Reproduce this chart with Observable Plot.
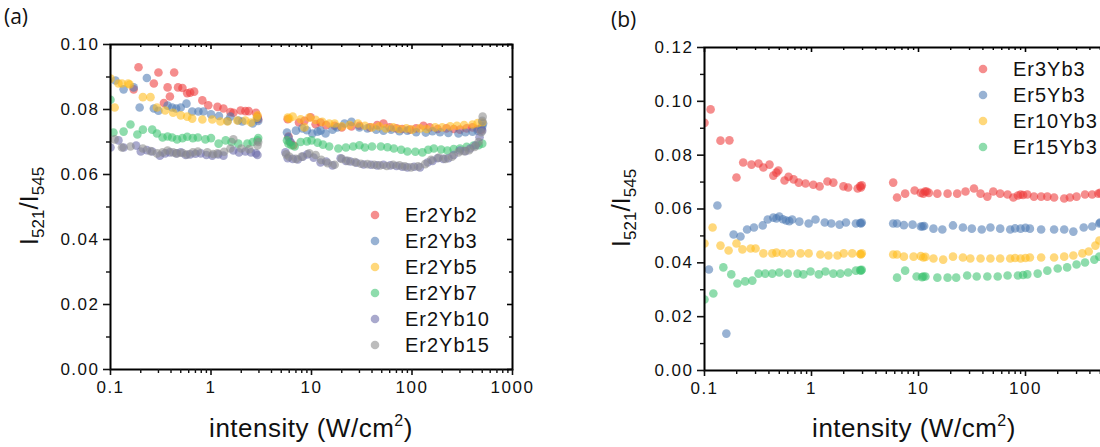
<!DOCTYPE html>
<html><head><meta charset="utf-8">
<script src="https://cdn.jsdelivr.net/npm/d3@7"></script>
<script src="https://cdn.jsdelivr.net/npm/@observablehq/plot@0.6"></script>
<style>
html,body{margin:0;padding:0;background:#fff;overflow:hidden;width:1100px;height:447px;}
#wrap{position:relative;width:1100px;height:447px;overflow:hidden;background:#fff;}
.panel{position:absolute;top:0;}
.panel svg{max-width:none !important;display:block;}
.plabel{position:absolute;font-family:"Open Sans","Noto Sans",sans-serif;font-size:21px;color:#111;}
</style></head><body><div id="wrap"></div>
<script>
// ---------- shared axis data ----------
const xMajor = [0.1, 1, 10, 100, 1000];
const xTickLabelsA = ["0.1", "1", "10", "100", "1000"];
const xTickLabelsB = ["0.1", "1", "10", "100", ""];   // 1000 lies beyond the cropped right edge
const xMinor = [0.1, 1, 10, 100].flatMap(d => [2,3,4,5,6,7,8,9].map(k => k * d));

// ---------- panel (a) ----------
const namesA = ["Er2Yb2", "Er2Yb3", "Er2Yb5", "Er2Yb7", "Er2Yb10", "Er2Yb15"];
const colorsA = ["#ee3b3b", "#4d7ab3", "#ffbb1c", "#3cc270", "#6b6ba8", "#8c8c8c"];
const yMajorA = [0, 0.02, 0.04, 0.06, 0.08, 0.10];
const yLabelsA = ["0.00", "0.02", "0.04", "0.06", "0.08", "0.10"];
const yMinorA = [0.01, 0.03, 0.05, 0.07, 0.09];

const er2yb2 = [[0.17,0.0862],[0.19,0.0930],[0.27,0.0880],[0.30,0.0914],[0.34,0.0820],[0.37,0.0868],[0.39,0.0840],[0.43,0.0914],[0.47,0.0868],[0.52,0.0866],[0.58,0.0850],[0.62,0.0852],[0.68,0.0855],[0.82,0.0828],[0.94,0.0813],[1.16,0.0808],[1.33,0.0803],[1.56,0.0792],[1.67,0.0790],[1.97,0.0797],[2.2,0.0795],[2.37,0.0795],[2.8,0.0790],[2.9,0.0778],[2.95,0.0770],
  [5.8,0.0770],[5.9,0.0717],[6.1,0.0700],[6.6,0.0690],[7.5,0.0760],[8.5,0.0765],[9.8,0.0776],[11,0.0755],[12.3,0.0760],[14,0.0752],[17,0.0750],[20,0.0745],[25,0.0748],[30,0.0750],[38,0.0745],[45,0.0752],[52,0.0757],[60,0.0745],[70,0.0742],[80,0.0740],[95,0.0738],[110,0.0742],[130,0.0750],[150,0.0745],[180,0.0740],[220,0.0742],[260,0.0740],[300,0.0738],[350,0.0742],[400,0.0745],[450,0.0740],[490,0.0738]];
const er2yb3 = [[0.112,0.0889],[0.135,0.0862],[0.17,0.0868],[0.195,0.0806],[0.23,0.0897],[0.27,0.0803],[0.30,0.0796],[0.37,0.0812],[0.41,0.0806],[0.45,0.0803],[0.50,0.0806],[0.57,0.0818],[0.65,0.0794],[0.75,0.0794],[0.84,0.0794],[1.0,0.0785],[1.2,0.0780],[1.46,0.0765],[1.56,0.0778],[1.87,0.0766],[2.05,0.0763],[2.6,0.0757],[2.9,0.0772],[2.95,0.0765],
  [5.7,0.0729],[5.9,0.0714],[6.2,0.0700],[7.0,0.0735],[8.1,0.0742],[9,0.0736],[10.2,0.0726],[11.5,0.0732],[12.3,0.0735],[13.8,0.0726],[16.2,0.0738],[18,0.0745],[21.3,0.0757],[25,0.0762],[30,0.0745],[36,0.0742],[44,0.0738],[52,0.0735],[62,0.0738],[75,0.0733],[90,0.0735],[110,0.0730],[137,0.0729],[160,0.0733],[190,0.0730],[230,0.0728],[290,0.0726],[340,0.0730],[400,0.0732],[450,0.0735],[490,0.0740],[500,0.0748],[510,0.0757]];
const er2yb5 = [[0.10,0.0895],[0.11,0.0806],[0.12,0.0880],[0.13,0.0880],[0.15,0.0880],[0.155,0.0877],[0.21,0.0838],[0.25,0.0838],[0.29,0.0806],[0.35,0.0797],[0.42,0.0790],[0.50,0.0782],[0.58,0.0778],[0.65,0.0772],[0.82,0.0769],[1.03,0.0769],[1.24,0.0763],[1.46,0.0763],[1.83,0.0766],[2.2,0.0766],[2.5,0.0760],[2.85,0.0775],[2.9,0.0782],
  [5.8,0.0775],[6.0,0.0772],[6.5,0.0778],[7.8,0.0770],[8.5,0.0745],[9.5,0.0775],[11,0.0768],[12.8,0.0762],[15,0.0757],[17,0.0757],[20,0.0748],[24,0.0752],[29,0.0757],[34,0.0750],[40,0.0745],[47,0.0748],[55,0.0742],[65,0.0745],[75,0.0740],[88,0.0742],[100,0.0738],[120,0.0742],[140,0.0740],[170,0.0745],[200,0.0745],[240,0.0748],[280,0.0750],[330,0.0752],[400,0.0754],[450,0.0758],[500,0.0760]];
const er2yb7 = [[0.10,0.0830],[0.107,0.0729],[0.135,0.0732],[0.158,0.0754],[0.185,0.0723],[0.21,0.0738],[0.26,0.0738],[0.29,0.0726],[0.33,0.0714],[0.37,0.0717],[0.41,0.0714],[0.46,0.0708],[0.52,0.0712],[0.58,0.0716],[0.66,0.0712],[0.74,0.0714],[0.88,0.0708],[1.0,0.0712],[1.19,0.0695],[1.4,0.0705],[1.6,0.0700],[1.87,0.0695],[2.3,0.0695],[2.6,0.0700],[2.9,0.0705],[2.95,0.0712],
  [5.7,0.0705],[5.9,0.0695],[6.3,0.0690],[6.8,0.0686],[7.8,0.0700],[9,0.0702],[10,0.0705],[11.5,0.0698],[13,0.0692],[15,0.0686],[18.5,0.0680],[22,0.0683],[26,0.0686],[30,0.0690],[34,0.0683],[40,0.0686],[49,0.0686],[57,0.0684],[66,0.0680],[78,0.0676],[90,0.0671],[108,0.0670],[127,0.0668],[145,0.0676],[165,0.0680],[195,0.0677],[225,0.0674],[260,0.0678],[300,0.0680],[350,0.0685],[410,0.0689],[460,0.0690],[500,0.0695]];
const er2yb10 = [[0.10,0.0683],[0.12,0.0705],[0.135,0.0683],[0.18,0.0689],[0.20,0.0671],[0.23,0.0675],[0.26,0.0671],[0.31,0.0658],[0.35,0.0665],[0.39,0.0668],[0.45,0.0665],[0.50,0.0668],[0.56,0.0660],[0.62,0.0662],[0.70,0.0664],[0.79,0.0665],[0.9,0.0660],[1.03,0.0658],[1.18,0.0662],[1.33,0.0658],[1.67,0.0674],[1.9,0.0668],[2.2,0.0671],[2.5,0.0668],[2.8,0.0665],[2.9,0.0660],
  [5.5,0.0668],[5.8,0.0650],[6.5,0.0648],[7.3,0.0646],[8.2,0.0655],[9.1,0.0662],[10.5,0.0652],[12.3,0.0637],[14,0.0640],[16.2,0.0628],[19.5,0.0650],[22,0.0642],[24.4,0.0640],[28,0.0636],[33,0.0631],[39,0.0630],[45,0.0628],[52,0.0630],[61,0.0628],[70,0.0626],[80,0.0624],[90,0.0622],[105,0.0624],[120,0.0622],[143,0.0637],[160,0.0642],[180,0.0650],[205,0.0648],[230,0.0650],[260,0.0660],[300,0.0674],[340,0.0672],[380,0.0680],[430,0.0690],[470,0.0715],[500,0.0735]];
const er2yb15 = [[0.11,0.0708],[0.13,0.0683],[0.158,0.0686],[0.21,0.0680],[0.25,0.0672],[0.29,0.0665],[0.33,0.0668],[0.37,0.0674],[0.42,0.0668],[0.46,0.0665],[0.52,0.0666],[0.58,0.0662],[0.66,0.0668],[0.74,0.0671],[0.92,0.0668],[1.05,0.0663],[1.16,0.0665],[1.35,0.0670],[1.56,0.0680],[1.67,0.0708],[2.0,0.0680],[2.4,0.0678],[2.9,0.0689],[2.95,0.0700],
  [5.6,0.0662],[6.0,0.0655],[7.0,0.0648],[8,0.0655],[9.5,0.0665],[11,0.0660],[12.5,0.0645],[14.5,0.0635],[17,0.0630],[20,0.0648],[23,0.0642],[27,0.0638],[31,0.0633],[36,0.0632],[42,0.0630],[48,0.0628],[56,0.0626],[65,0.0630],[75,0.0628],[85,0.0625],[98,0.0622],[115,0.0625],[135,0.0632],[155,0.0645],[185,0.0652],[215,0.0648],[250,0.0655],[290,0.0668],[330,0.0672],[370,0.0675],[420,0.0685],[460,0.0700],[490,0.0730],[500,0.0765],[505,0.0778]];
const seriesA = [er2yb2, er2yb3, er2yb5, er2yb7, er2yb10, er2yb15];

// ---------- panel (b) ----------
const namesB = ["Er3Yb3", "Er5Yb3", "Er10Yb3", "Er15Yb3"];
const colorsB = ["#ee3b3b", "#4d7ab3", "#ffbb1c", "#3cc270"];
const yMajorB = [0, 0.02, 0.04, 0.06, 0.08, 0.10, 0.12];
const yLabelsB = ["0.00", "0.02", "0.04", "0.06", "0.08", "0.10", "0.12"];
const yMinorB = [0.01, 0.03, 0.05, 0.07, 0.09, 0.11];

const er3yb3 = [[0.1,0.0920],[0.114,0.0970],[0.141,0.0854],[0.171,0.0855],[0.199,0.0717],[0.23,0.0773],[0.275,0.0765],[0.32,0.0769],[0.355,0.0754],[0.405,0.0765],[0.44,0.0724],[0.47,0.0735],[0.49,0.0743],[0.56,0.0706],[0.61,0.0720],[0.68,0.0710],[0.76,0.0698],[0.88,0.0695],[1.04,0.0690],[1.19,0.0684],[1.41,0.0702],[1.6,0.0698],[1.99,0.0684],[2.2,0.0680],[2.7,0.0676],[2.85,0.0685],[2.9,0.0680],[2.95,0.0688],
  [5.8,0.0698],[6.3,0.0643],[7.5,0.0657],[9.2,0.0669],[10.5,0.0660],[11.1,0.0657],[11.5,0.0665],[11.9,0.0665],[12.5,0.0660],[15,0.0657],[18.7,0.0657],[23,0.0657],[27.5,0.0665],[33,0.0676],[38,0.0657],[44,0.0646],[50,0.0665],[58,0.0657],[68,0.0654],[77,0.0643],[85,0.0650],[90,0.0654],[95,0.0652],[104,0.0654],[120,0.0646],[140,0.0646],[160,0.0646],[185,0.0643],[230,0.0639],[260,0.0643],[300,0.0646],[360,0.0654],[420,0.0654],[480,0.0657],[500,0.0660]];
const er5yb3 = [[0.11,0.0375],[0.132,0.0613],[0.16,0.0137],[0.187,0.0505],[0.217,0.0498],[0.25,0.0524],[0.29,0.0531],[0.35,0.0539],[0.39,0.0561],[0.44,0.0568],[0.47,0.0565],[0.5,0.0572],[0.54,0.0562],[0.58,0.0557],[0.62,0.0555],[0.66,0.0561],[0.77,0.0553],[0.94,0.0546],[1.09,0.0561],[1.33,0.0550],[1.53,0.0546],[1.83,0.0542],[2.1,0.0550],[2.6,0.0546],[2.85,0.0548],[2.9,0.0546],[2.95,0.0550],
  [5.8,0.0546],[6.3,0.0546],[7.3,0.0540],[8.8,0.0542],[10.5,0.0535],[10.9,0.0535],[11.3,0.0537],[13.8,0.0527],[16.7,0.0524],[21,0.0539],[26,0.0531],[31.5,0.0527],[39,0.0524],[47,0.0531],[58,0.0527],[72,0.0524],[80,0.0528],[90,0.0527],[100,0.0530],[110,0.0527],[140,0.0524],[185,0.0524],[230,0.0524],[280,0.0516],[350,0.0531],[420,0.0535],[490,0.0546],[500,0.0550]];
const er10yb3 = [[0.1,0.0472],[0.119,0.0531],[0.141,0.0464],[0.168,0.0446],[0.199,0.0472],[0.226,0.0450],[0.27,0.0453],[0.3,0.0453],[0.355,0.0435],[0.43,0.0435],[0.47,0.0438],[0.54,0.0435],[0.64,0.0435],[0.79,0.0435],[0.94,0.0435],[1.21,0.0431],[1.44,0.0427],[1.75,0.0427],[2.0,0.0435],[2.4,0.0435],[2.85,0.0433],[2.9,0.0431],[2.95,0.0435],
  [5.8,0.0431],[6.3,0.0431],[7.3,0.0423],[9,0.0423],[10.5,0.0425],[11.1,0.0420],[11.6,0.0422],[13.8,0.0416],[17,0.0412],[21,0.0423],[26,0.0420],[30.5,0.0416],[38,0.0416],[47,0.0416],[58,0.0416],[72,0.0416],[80,0.0418],[90,0.0416],[100,0.0418],[110,0.0420],[140,0.0420],[185,0.0420],[230,0.0423],[280,0.0427],[340,0.0435],[390,0.0442],[450,0.0464],[490,0.0483]];
const er15yb3 = [[0.1,0.0264],[0.121,0.0286],[0.15,0.0383],[0.178,0.0357],[0.203,0.0323],[0.24,0.0331],[0.28,0.0334],[0.32,0.0360],[0.37,0.0360],[0.43,0.0360],[0.5,0.0364],[0.6,0.0360],[0.74,0.0360],[0.84,0.0357],[0.98,0.0368],[1.17,0.0357],[1.35,0.0368],[1.6,0.0360],[1.86,0.0360],[2.2,0.0364],[2.6,0.0371],[2.85,0.0373],[2.9,0.0371],[2.95,0.0374],
  [6.3,0.0345],[7.5,0.0371],[9.6,0.0349],[10.8,0.0347],[11.1,0.0349],[11.6,0.0349],[15,0.0345],[18.7,0.0345],[22.5,0.0345],[28.5,0.0353],[35,0.0349],[44,0.0349],[55,0.0349],[68,0.0353],[85,0.0353],[95,0.0355],[104,0.0357],[130,0.0360],[160,0.0371],[200,0.0379],[245,0.0383],[300,0.0394],[360,0.0401],[440,0.0412],[490,0.0423]];
const seriesB = [er3yb3, er5yb3, er10yb3, er15yb3];

const H = 447;
const FONT = "'Liberation Sans', Arial, sans-serif";
const wrap = document.getElementById("wrap");

function makePanel(cfg) {
  const rows = cfg.series.flatMap((pts, i) => pts.map(([x, y]) => ({name: cfg.names[i], x, y})));
  const plotW = cfg.width - cfg.marginLeft - cfg.marginRight;
  const plotH = H - cfg.marginTop - cfg.marginBottom;
  const svg = Plot.plot({
    width: cfg.width, height: H,
    marginLeft: cfg.marginLeft, marginRight: cfg.marginRight,
    marginTop: cfg.marginTop, marginBottom: cfg.marginBottom,
    style: {fontFamily: FONT, color: "#111", background: "transparent", overflow: "visible", maxWidth: "none"},
    x: {type: "log", domain: [0.1, 1000]},
    y: {domain: cfg.yDomain},
    color: {domain: cfg.names, range: cfg.colors},
    marks: [
      Plot.dot(rows, {x: "x", y: "y", fill: "name", r: 4.3, fillOpacity: 0.58, clip: "frame"}),
      Plot.frame({stroke: "black", strokeWidth: 2}),
      Plot.axisX({ticks: xMajor, tickSize: 6, tickPadding: 5, strokeWidth: 1.6, fontSize: 17,
        tickFormat: d => cfg.xLabels[xMajor.indexOf(d)], label: null}),
      Plot.axisX({ticks: xMinor, tickSize: 4, strokeWidth: 1.4, tickFormat: () => "", label: null}),
      Plot.axisY({ticks: cfg.yMajor, tickSize: 7, tickPadding: 4, strokeWidth: 1.6, fontSize: 17,
        tickFormat: d => cfg.yLabels[cfg.yMajor.indexOf(d)], label: null}),
      Plot.axisY({ticks: cfg.yMinor, tickSize: 4, strokeWidth: 1.4, tickFormat: () => "", label: null}),
      Plot.tickX(xMajor, {x: d => d, insetBottom: plotH - 5, stroke: "black", strokeWidth: 1.6}),
      Plot.tickX(xMinor, {x: d => d, insetBottom: plotH - 3, stroke: "black", strokeWidth: 1.4}),
      Plot.tickY(cfg.yMajor, {y: d => d, insetLeft: plotW - 5, stroke: "black", strokeWidth: 1.6}),
      Plot.tickY(cfg.yMinor, {y: d => d, insetLeft: plotW - 3, stroke: "black", strokeWidth: 1.4})
    ]
  });
  svg.style.maxWidth = "none";
  svg.style.width = cfg.width + "px";
  svg.style.height = H + "px";
  const s = d3.select(svg);
  s.selectAll("g[aria-label='x-axis tick label'] text, g[aria-label='y-axis tick label'] text")
    .style("letter-spacing", "1.5px");
  // y-axis title with subscripts
  const yt = s.append("text")
    .attr("transform", `translate(${cfg.yTitleX},${cfg.yTitleY}) rotate(-90)`)
    .attr("text-anchor", "middle").attr("fill", "#111")
    .style("font-family", FONT).style("font-size", "26px");
  yt.append("tspan").text("I");
  yt.append("tspan").attr("dy", 6).style("font-size", "17px").text("521");
  yt.append("tspan").attr("dy", -6).text("/I");
  yt.append("tspan").attr("dy", 6).style("font-size", "17px").text("545");
  // x-axis title with superscript
  const xt = s.append("text")
    .attr("x", cfg.marginLeft + cfg.xTitleCx).attr("y", cfg.xTitleY)
    .attr("text-anchor", "middle").attr("fill", "#111")
    .style("font-family", FONT).style("font-size", "26px").style("letter-spacing", "0.5px");
  xt.append("tspan").text("intensity (W/cm");
  xt.append("tspan").attr("dy", -11).style("font-size", "16px").text("2");
  xt.append("tspan").attr("dy", 11).text(")");
  // legend
  cfg.names.forEach((n, i) => {
    const ly = cfg.legendY + i * 26;
    s.append("circle").attr("cx", cfg.legendX).attr("cy", ly).attr("r", 4.3)
      .attr("fill", cfg.colors[i]).attr("fill-opacity", 0.58);
    s.append("text").attr("x", cfg.legendX + 30).attr("y", ly + 7)
      .attr("text-anchor", "start")
      .attr("fill", "#111").style("font-family", FONT).style("font-size", "20px")
      .style("letter-spacing", "1px").text(n);
  });
  const holder = document.createElement("div");
  holder.className = "panel";
  holder.style.left = cfg.left + "px";
  holder.style.width = cfg.width + "px";
  holder.appendChild(svg);
  wrap.appendChild(holder);
}

makePanel({
  series: seriesA, names: namesA, colors: colorsA, xLabels: xTickLabelsA,
  yDomain: [0, 0.10], yMajor: yMajorA, yLabels: yLabelsA, yMinor: yMinorA,
  left: 0, width: 560, marginLeft: 110, marginRight: 48, marginTop: 44, marginBottom: 78,
  yTitleX: 38, yTitleY: 206, xTitleCx: 201, xTitleY: 437,
  legendX: 375, legendY: 215
});
makePanel({
  series: seriesB, names: namesB, colors: colorsB, xLabels: xTickLabelsB,
  yDomain: [0, 0.12], yMajor: yMajorB, yLabels: yLabelsB, yMinor: yMinorB,
  left: 590, width: 562, marginLeft: 114, marginRight: 20, marginTop: 47, marginBottom: 77,
  yTitleX: 40, yTitleY: 208, xTitleCx: 210, xTitleY: 437,
  legendX: 393, legendY: 69
});

const la = document.createElement("div");
la.className = "plabel"; la.style.left = "4px"; la.style.top = "2px"; la.textContent = "(a)";
wrap.appendChild(la);
const lb = document.createElement("div");
lb.className = "plabel"; lb.style.left = "611px"; lb.style.top = "5px"; lb.textContent = "(b)";
wrap.appendChild(lb);
</script>
</body></html>
